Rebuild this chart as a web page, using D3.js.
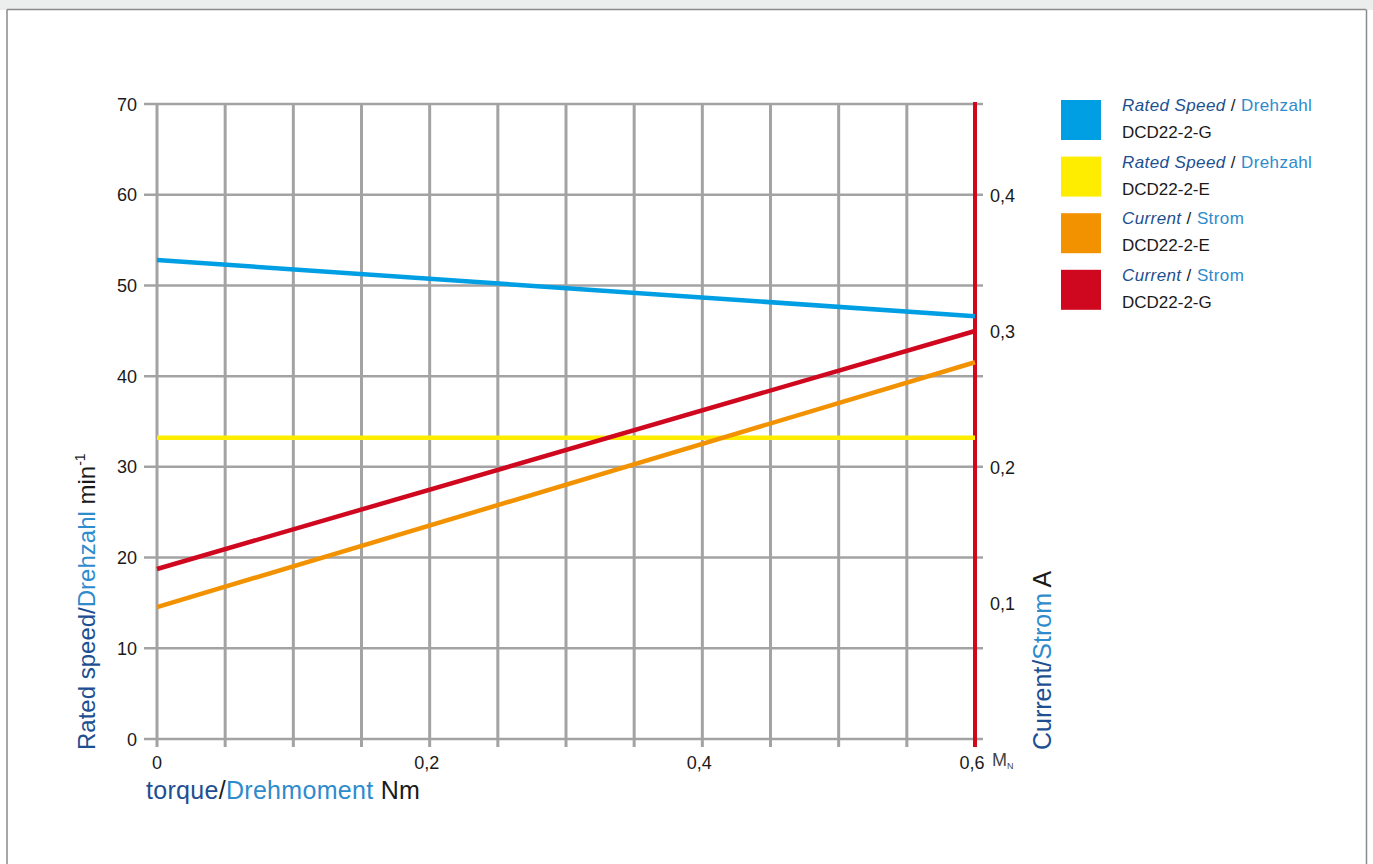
<!DOCTYPE html>
<html>
<head>
<meta charset="utf-8">
<script src="https://cdn.jsdelivr.net/npm/d3@7"></script>
<style>
  body { margin: 0; background: #fff; }
  svg { display: block; font-family: "Liberation Sans", Arial, sans-serif; }
</style>
</head>
<body>
<svg id="chart" width="1373" height="864"></svg>
<script>
// torque values (Nm) at which the curves are read
var torque = [0, 0.6];
var speedG = [52.8, 46.6];   // Rated Speed DCD22-2-G, min-1
var speedE = [33.2, 33.2];   // Rated Speed DCD22-2-E
var currentE = [0.097, 0.277]; // Current DCD22-2-E, A
var currentG = [0.125, 0.3];   // Current DCD22-2-G, A

var speedTicks = [0, 10, 20, 30, 40, 50, 60, 70];
var currentTicks = [0.1, 0.2, 0.3, 0.4];
var torqueTicks = [0, 0.2, 0.4, 0.6];
var torqueGrid = d3.range(0, 12).map(function (i) { return i * 0.05; });

var legendItems = [
  { a: "Rated Speed", b: "Drehzahl", name: "DCD22-2-G", color: "#009fe3" },
  { a: "Rated Speed", b: "Drehzahl", name: "DCD22-2-E", color: "#ffed00" },
  { a: "Current", b: "Strom", name: "DCD22-2-E", color: "#f39200" },
  { a: "Current", b: "Strom", name: "DCD22-2-G", color: "#d0081f" }
];

var darkBlue = "#1d4f91", lightBlue = "#2e8bcc", ink = "#1a1a1a", grid = "#a3a3a3";

var svg = d3.select('#chart');

// frame
svg.append('rect').attr('x', 0).attr('y', 0).attr('width', 1373).attr('height', 10).attr('fill', '#eceeed');
svg.append('line').attr('x1', 7).attr('x2', 1366).attr('y1', 9.5).attr('y2', 9.5).attr('stroke', '#8a8a8a').attr('stroke-width', 1.5);
svg.append('line').attr('x1', 7).attr('x2', 7).attr('y1', 9.5).attr('y2', 864).attr('stroke', '#8a8a8a').attr('stroke-width', 1.5);
svg.append('line').attr('x1', 1366.5).attr('x2', 1366.5).attr('y1', 9.5).attr('y2', 864).attr('stroke', '#8a8a8a').attr('stroke-width', 1.5);

var x = d3.scaleLinear().domain([0, 0.6]).range([157, 975]);
var y = d3.scaleLinear().domain([0, 70]).range([739, 104]);
var y2 = d3.scaleLinear().domain([0, 0.1]).range([739, 603]);

// horizontal grid
svg.selectAll('.hgrid').data(speedTicks).enter().append('line')
  .attr('class', 'hgrid')
  .attr('x1', 144).attr('x2', 983)
  .attr('y1', function (d) { return y(d); }).attr('y2', function (d) { return y(d); })
  .attr('stroke', grid).attr('stroke-width', 2.5);

// vertical grid
svg.selectAll('.vgrid').data(torqueGrid).enter().append('line')
  .attr('class', 'vgrid')
  .attr('x1', function (d) { return x(d); }).attr('x2', function (d) { return x(d); })
  .attr('y1', 104).attr('y2', 747)
  .attr('stroke', grid).attr('stroke-width', 3);

// right axis line
svg.append('line').attr('x1', x(0.6)).attr('x2', x(0.6)).attr('y1', 102).attr('y2', 747)
  .attr('stroke', '#d0081f').attr('stroke-width', 4);

// left tick labels
svg.selectAll('.ylab').data(speedTicks).enter().append('text')
  .attr('x', 137).attr('y', function (d) { return y(d) + 6.5; })
  .attr('text-anchor', 'end').attr('font-size', 18).attr('fill', ink)
  .text(function (d) { return d; });

// right tick labels
svg.selectAll('.y2lab').data(currentTicks).enter().append('text')
  .attr('x', 990).attr('y', function (d) { return y2(d) + 6.5; })
  .attr('font-size', 18).attr('fill', ink)
  .text(function (d) { return String(d).replace('.', ','); });

// x tick labels
svg.selectAll('.xlab').data(torqueTicks).enter().append('text')
  .attr('x', function (d) { return x(d) + (d === 0 ? 0 : -3); }).attr('y', 769)
  .attr('text-anchor', 'middle')
  .attr('font-size', 18).attr('fill', ink)
  .text(function (d) { return String(d).replace('.', ','); });
var mn = svg.append('text').attr('x', 992).attr('y', 766).attr('font-size', 18).attr('fill', '#444');
mn.append('tspan').text('M');
mn.append('tspan').attr('font-size', 9).attr('dy', 3).text('N');

// lines
var lineLeft = d3.line().x(function (d) { return x(d[0]); }).y(function (d) { return y(d[1]); });
var lineRight = d3.line().x(function (d) { return x(d[0]); }).y(function (d) { return y2(d[1]); });

function draw(vals, gen, color) {
  svg.append('path').datum(d3.zip(torque, vals))
    .attr('d', gen).attr('fill', 'none').attr('stroke', color).attr('stroke-width', 4.5);
}
draw(speedE, lineLeft, '#ffed00');
draw(speedG, lineLeft, '#009fe3');
draw(currentE, lineRight, '#f39200');
draw(currentG, lineRight, '#d0081f');

// axis titles
var yt = svg.append('text').attr('transform', 'translate(95,750) rotate(-90)').attr('font-size', 24);
yt.append('tspan').attr('fill', darkBlue).text('Rated speed/');
yt.append('tspan').attr('fill', lightBlue).text('Drehzahl');
yt.append('tspan').attr('fill', ink).text(' min');
yt.append('tspan').attr('fill', ink).attr('font-size', 14).attr('dy', -10).text('-1');

var y2t = svg.append('text').attr('transform', 'translate(1051,750) rotate(-90)').attr('font-size', 25);
y2t.append('tspan').attr('fill', darkBlue).text('Current/');
y2t.append('tspan').attr('fill', lightBlue).text('Strom');
y2t.append('tspan').attr('fill', ink).text(' A');

var xt = svg.append('text').attr('x', 146).attr('y', 799).attr('font-size', 25).attr('letter-spacing', 0.3);
xt.append('tspan').attr('fill', darkBlue).text('torque');
xt.append('tspan').attr('fill', ink).text('/');
xt.append('tspan').attr('fill', lightBlue).text('Drehmoment');
xt.append('tspan').attr('fill', ink).text(' Nm');

// legend
var lg = svg.selectAll('.leg').data(legendItems).enter().append('g')
  .attr('transform', function (d, i) { return 'translate(1061,' + (100 + i * 56.6) + ')'; });
lg.append('rect').attr('width', 40).attr('height', 40).attr('fill', function (d) { return d.color; });
var l1 = lg.append('text').attr('x', 61).attr('y', 11).attr('font-size', 17).attr('letter-spacing', 0.4);
l1.append('tspan').attr('fill', darkBlue).attr('font-style', 'italic').text(function (d) { return d.a; });
l1.append('tspan').attr('fill', ink).text(' / ');
l1.append('tspan').attr('fill', lightBlue).text(function (d) { return d.b; });
lg.append('text').attr('x', 61).attr('y', 38).attr('font-size', 17).attr('fill', ink)
  .text(function (d) { return d.name; });
</script>
</body>
</html>
